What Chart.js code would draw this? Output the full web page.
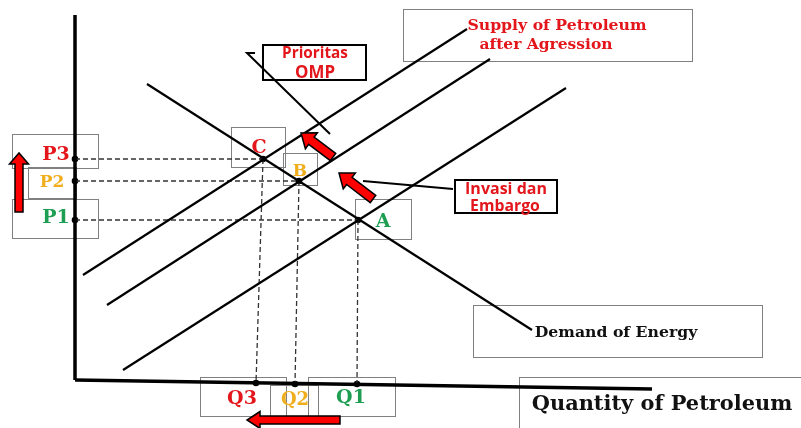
<!DOCTYPE html>
<html>
<head>
<meta charset="utf-8">
<script src="https://cdn.jsdelivr.net/npm/chart.js@4.4.1/dist/chart.umd.min.js"></script>
<style>
  html, body { margin: 0; padding: 0; background: #fff; }
  #wrap { width: 801px; height: 428px; }
</style>
</head>
<body>
<div id="wrap"><canvas id="chart" width="801" height="428"></canvas></div>
<script>
// Diagram units: origin at the corner of the axes, quantity to the right, price up
const priceAxis = [{ x: 0, y: 365 }, { x: 0, y: 0 }];
const quantityAxis = [{ x: 0, y: 0 }, { x: 577, y: -9 }];
const supplyBefore = [{ x: 48, y: 10 }, { x: 491, y: 292 }];
const supplyOmp = [{ x: 32, y: 75 }, { x: 415, y: 321 }];
const supplyAgression = [{ x: 8, y: 105 }, { x: 392, y: 351 }];
const demandEnergy = [{ x: 72, y: 296 }, { x: 457, y: 50 }];
const ompPointer = [{ x: 180, y: 327 }, { x: 172, y: 327 }, { x: 255, y: 246 }];
const invasiPointer = [{ x: 288, y: 199 }, { x: 378, y: 191 }];

// equilibria A, B, C
const eqLabels = ["A", "B", "C"];
const eqQuantity = [283, 224, 188];
const eqPrice = [160, 199, 221];
const priceLabels = ["P1", "P2", "P3"];
const quantityLabels = ["Q1", "Q2", "Q3"];
const qDotQuantity = [282, 220, 181];
const qDotLevel = [-4, -4, -3];

// shift arrows (tail -> tip)
const arrowTails = [{ x: 258, y: 223 }, { x: 298, y: 181 }, { x: -56, y: 168 }, { x: 265, y: -40 }];
const arrowTips = [{ x: 226, y: 247 }, { x: 264, y: 207 }, { x: -56, y: 227 }, { x: 172, y: -40 }];

const RED = "#e3161c", GOLD = "#f0ae1c", GREEN = "#1e9e52";
const SERIF = "'DejaVu Serif', serif";
const SANS = "'Open Sans', 'Noto Sans', sans-serif";

// label boxes, in canvas pixels
const boxes = [
  { r: [12, 134, 98, 168], c: "#808080", w: 1 },
  { r: [28, 167, 76, 198], c: "#808080", w: 1 },
  { r: [12, 199, 98, 238], c: "#808080", w: 1 },
  { r: [231, 127, 285, 167], c: "#808080", w: 1 },
  { r: [283, 153, 317, 185], c: "#808080", w: 1 },
  { r: [355, 199, 411, 239], c: "#808080", w: 1 },
  { r: [200, 377, 286, 416], c: "#808080", w: 1 },
  { r: [270, 385, 318, 416], c: "#808080", w: 1 },
  { r: [308, 377, 395, 416], c: "#808080", w: 1 },
  { r: [403, 9, 692, 61], c: "#808080", w: 1 },
  { r: [473, 305, 762, 357], c: "#808080", w: 1 },
  { r: [519, 377, 830, 450], c: "#808080", w: 1 },
  { r: [263, 45, 366, 80], c: "#000", w: 2 },
  { r: [455, 180, 557, 213], c: "#000", w: 2 }
];

// text: [text, centre x, centre y, width (long text) or font px (short text), family, colour]
const texts = [
  ["Supply of Petroleum", 557, 26, { w: 179 }, SERIF, RED],
  ["after Agression", 546, 45, { w: 133 }, SERIF, RED],
  ["Prioritas", 315, 54, { w: 66 }, SANS, RED],
  ["OMP", 315, 73, { w: 40 }, SANS, RED],
  ["Invasi dan", 506, 189, { w: 82 }, SANS, RED],
  ["Embargo", 505, 206, { w: 70 }, SANS, RED],
  ["Demand of Energy", 616, 333, { w: 163 }, SERIF, "#111"],
  ["Quantity of Petroleum", 662, 405, { w: 261 }, SERIF, "#111"],
  [priceLabels[2], 56, 155, { s: 19 }, SERIF, RED],
  [priceLabels[1], 52, 183, { s: 17 }, SERIF, GOLD],
  [priceLabels[0], 56, 218, { s: 19 }, SERIF, GREEN],
  [eqLabels[2], 259, 148, { s: 19 }, SERIF, RED],
  [eqLabels[1], 300, 172, { s: 17 }, SERIF, GOLD],
  [eqLabels[0], 383, 222, { s: 19 }, SERIF, GREEN],
  [quantityLabels[2], 242, 399, { s: 19 }, SERIF, RED],
  [quantityLabels[1], 295, 400, { s: 18 }, SERIF, GOLD],
  [quantityLabels[0], 351, 398, { s: 19 }, SERIF, GREEN]
];

// arrow sizes: [shaft half width, head half width, head length]
const arrowShapes = [[4.5, 10, 13], [4.5, 10, 13], [4, 9.5, 11], [4, 8.5, 13]];

function line(data, width, dash) {
  return {
    type: "line", data: data, showLine: true, borderColor: dash ? "#333" : "#000",
    borderWidth: width, borderDash: dash || [], pointRadius: 0, fill: false, clip: false
  };
}

const datasets = [
  line(priceAxis, 3.5), line(quantityAxis, 3.5),
  line(supplyBefore, 2.2), line(supplyOmp, 2.2), line(supplyAgression, 2.2),
  line(demandEnergy, 2.2), line(ompPointer, 2), line(invasiPointer, 1.8)
];
eqQuantity.forEach((q, i) => {
  datasets.push(line([{ x: 0, y: eqPrice[i] }, { x: q, y: eqPrice[i] }], 1.3, [5, 3]));
  datasets.push(line([{ x: q, y: eqPrice[i] }, { x: qDotQuantity[i], y: qDotLevel[i] }], 1.3, [5, 3]));
});
const dots = [];
eqQuantity.forEach((q, i) => {
  dots.push({ x: 0, y: eqPrice[i] }, { x: q, y: eqPrice[i] }, { x: qDotQuantity[i], y: qDotLevel[i] });
});
datasets.push({ data: dots, pointRadius: 3.3, backgroundColor: "#000", borderWidth: 0, showLine: false, clip: false });

function drawText(ctx, t) {
  const [txt, cx, cy, sz, fam, col] = t;
  let size = sz.s;
  if (!size) {
    ctx.font = "bold 100px " + fam;
    size = 100 * sz.w / ctx.measureText(txt).width;
  }
  ctx.font = "bold " + size.toFixed(1) + "px " + fam;
  ctx.fillStyle = col;
  ctx.textAlign = "center";
  ctx.textBaseline = "middle";
  ctx.fillText(txt, cx, cy);
}

function blockArrow(ctx, t, h, s) {
  const [sw, hw, hl] = s;
  const dx = h.x - t.x, dy = h.y - t.y, len = Math.hypot(dx, dy);
  const ux = dx / len, uy = dy / len, nx = -uy, ny = ux;
  const bx = h.x - ux * hl, by = h.y - uy * hl;
  ctx.beginPath();
  ctx.moveTo(t.x + nx * sw, t.y + ny * sw);
  ctx.lineTo(bx + nx * sw, by + ny * sw);
  ctx.lineTo(bx + nx * hw, by + ny * hw);
  ctx.lineTo(h.x, h.y);
  ctx.lineTo(bx - nx * hw, by - ny * hw);
  ctx.lineTo(bx - nx * sw, by - ny * sw);
  ctx.lineTo(t.x - nx * sw, t.y - ny * sw);
  ctx.closePath();
  ctx.fillStyle = "#ff0000";
  ctx.fill();
  ctx.lineWidth = 1.5;
  ctx.strokeStyle = "#000";
  ctx.stroke();
}

const diagram = {
  id: "diagram",
  beforeDatasetsDraw(chart) {
    const ctx = chart.ctx;
    ctx.save();
    boxes.forEach(b => {
      const [x1, y1, x2, y2] = b.r;
      ctx.strokeStyle = b.c;
      ctx.lineWidth = b.w;
      const o = b.w % 2 ? 0.5 : 0;
      ctx.strokeRect(x1 + o, y1 + o, x2 - x1, y2 - y1);
    });
    ctx.restore();
  },
  afterDatasetsDraw(chart) {
    const ctx = chart.ctx, xs = chart.scales.x, ys = chart.scales.y;
    ctx.save();
    texts.forEach(t => drawText(ctx, t));
    arrowTails.forEach((a, i) => {
      const t = { x: xs.getPixelForValue(a.x), y: ys.getPixelForValue(a.y) };
      const h = { x: xs.getPixelForValue(arrowTips[i].x), y: ys.getPixelForValue(arrowTips[i].y) };
      blockArrow(ctx, t, h, arrowShapes[i]);
    });
    ctx.restore();
  }
};

new Chart(document.getElementById("chart"), {
  type: "scatter",
  data: { datasets: datasets },
  options: {
    responsive: false,
    animation: false,
    layout: { padding: 0, autoPadding: false },
    elements: { line: { tension: 0 } },
    plugins: { legend: { display: false }, tooltip: { enabled: false } },
    scales: {
      x: { type: "linear", min: -75, max: 726, display: false },
      y: { type: "linear", min: -48, max: 380, display: false }
    }
  },
  plugins: [diagram]
});
</script>
</body>
</html>
